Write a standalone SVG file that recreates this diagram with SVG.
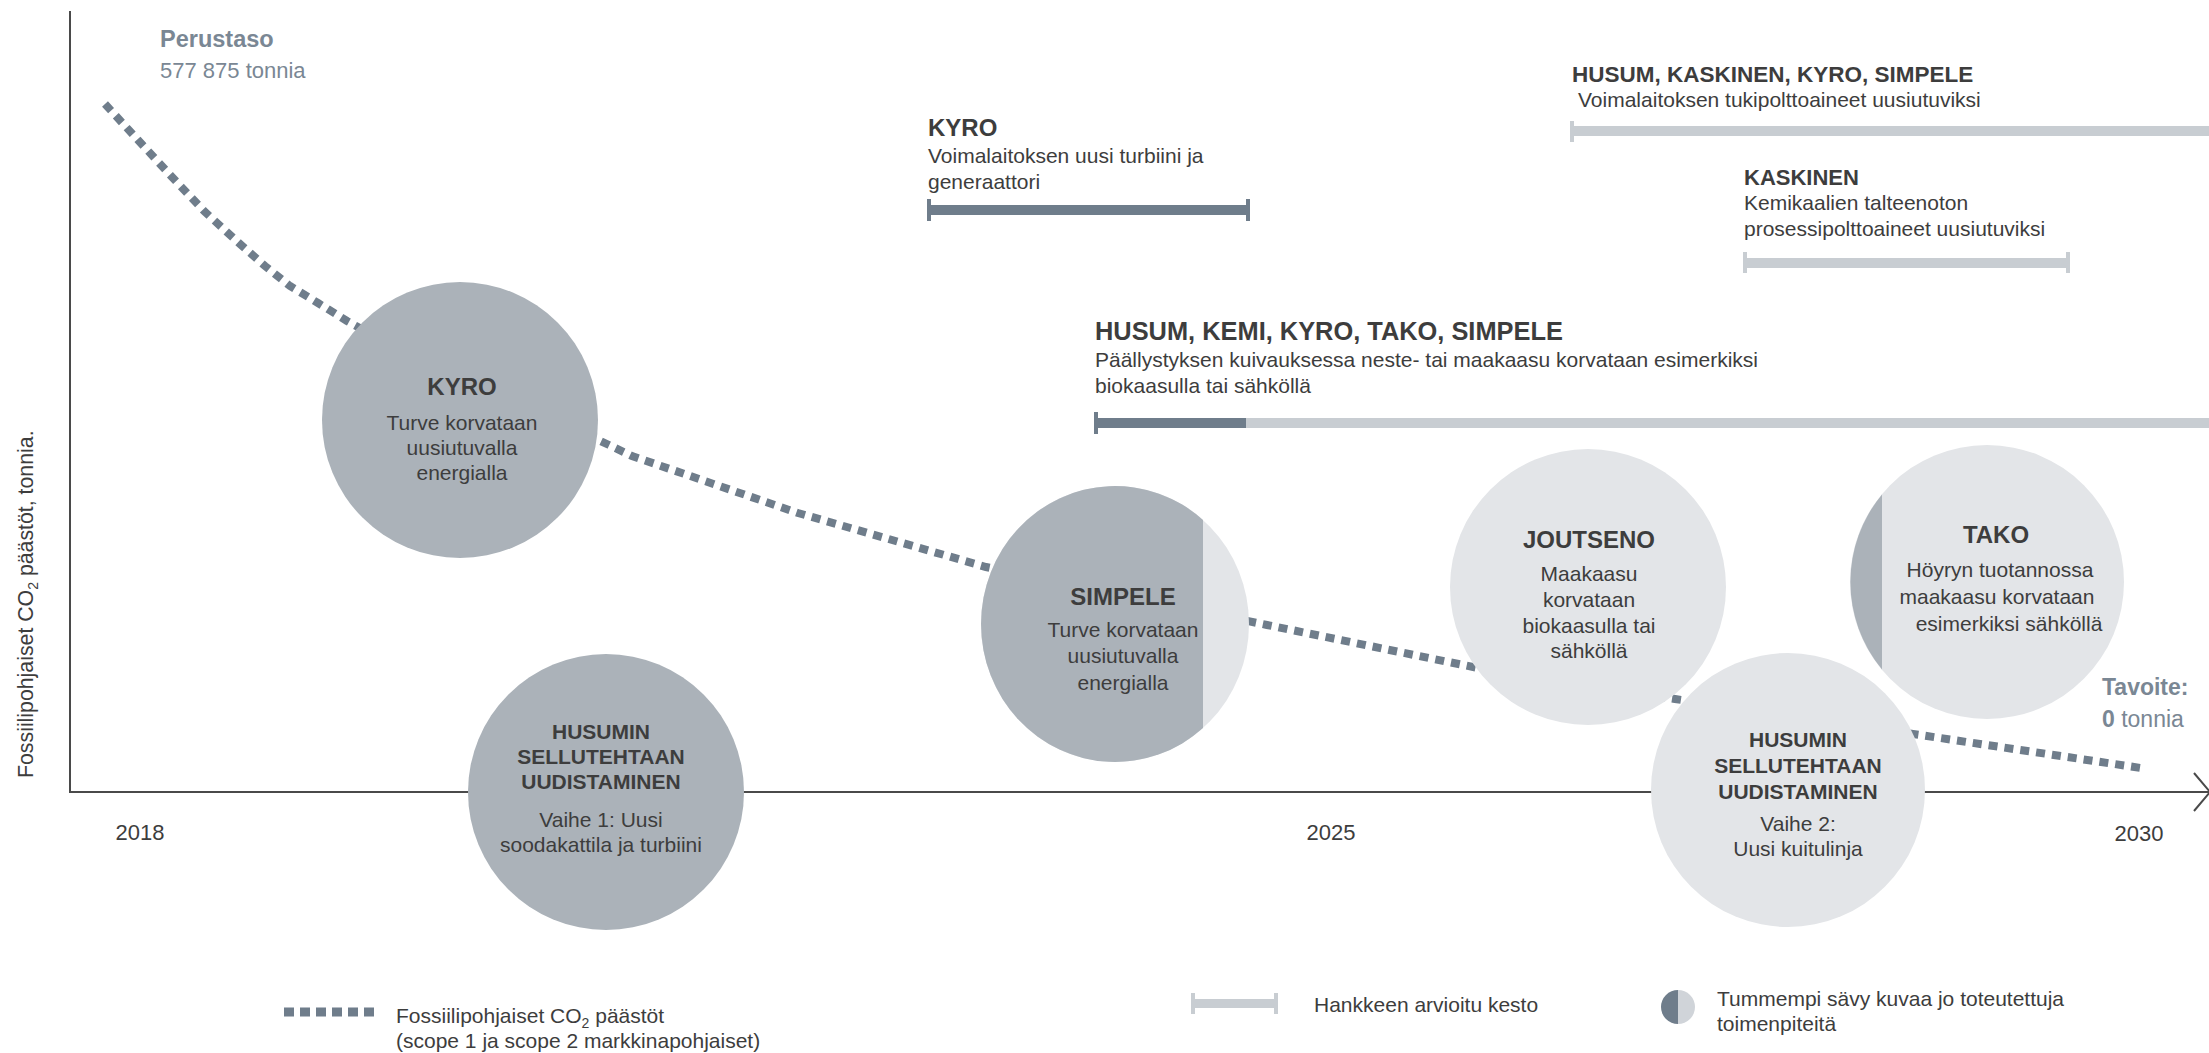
<svg xmlns="http://www.w3.org/2000/svg" width="2209" height="1053" viewBox="0 0 2209 1053">
<style>
text{font-family:"Liberation Sans",Arial,sans-serif;fill:#3d3d3d}
.t{font-size:21px}
.b{font-weight:bold}
.h{font-size:24px;font-weight:bold}
.hs{font-size:21px;font-weight:bold}
.c{text-anchor:middle}
.acc{fill:#7a8794}
.dk{fill:#abb2b9}
.lt{fill:#e3e5e8}
.bd{fill:#6f7d8b}
.bl{fill:#c8cdd2}
.dots{fill:none;stroke:#6f7d8b;stroke-width:8;stroke-dasharray:9 7}
.axis{fill:none;stroke:#4a4a4a;stroke-width:2}
</style>
<rect width="2209" height="1053" fill="#ffffff"/>

<g id="axes">
<polyline class="axis" points="70,11 70,792 2209,792"/>
<polyline class="axis" points="2194,773 2210,792 2194,811"/>
<text class="t" style="font-size:21.3px" transform="translate(33,778) rotate(-90)">Fossiilipohjaiset CO<tspan style="font-size:14px" dy="5">2</tspan><tspan dy="-5"> päästöt, tonnia.</tspan></text>
<text class="c" x="140" y="840" style="font-size:22px">2018</text>
<text class="c" x="1331" y="840" style="font-size:22px">2025</text>
<text class="c" x="2139" y="841" style="font-size:22px">2030</text>
</g>

<g id="connectors">
<path class="dots" d="M105,104 L138,140 L172,177 L205,212 L240,244 L265,266 L290,286 L318,303 L347,321 L358,327 L609,445 L632,456 L798,513 L986,567 L1267,625 L1478,668 L1675,699 L1920,735 L2141,768"/>
</g>

<g id="baseline">
<text class="acc b" x="160" y="47" style="font-size:23.5px">Perustaso</text>
<text class="acc" x="160" y="78" style="font-size:22px">577 875 tonnia</text>
</g>

<g id="target">
<text class="acc b" x="2102" y="695" style="font-size:23px">Tavoite:</text>
<text class="acc" x="2102" y="727" style="font-size:23px"><tspan font-weight="bold">0</tspan> tonnia</text>
</g>

<g id="bar-kyro">
<rect class="bd" x="928" y="205" width="320" height="10"/>
<rect class="bd" x="927" y="199" width="4" height="22"/>
<rect class="bd" x="1246" y="199" width="4" height="22"/>
<text class="b" x="928" y="136" style="font-size:24px">KYRO</text>
<text class="t" x="928" y="163">Voimalaitoksen uusi turbiini ja</text>
<text class="t" x="928" y="189">generaattori</text>
</g>

<g id="bar-husum-kaskinen">
<rect class="bl" x="1571" y="126" width="638" height="10"/>
<rect class="bl" x="1570" y="121" width="4" height="21"/>
<text class="b" x="1572" y="82" style="font-size:22.5px">HUSUM, KASKINEN, KYRO, SIMPELE</text>
<text class="t" x="1578" y="107">Voimalaitoksen tukipolttoaineet uusiutuviksi</text>
</g>

<g id="bar-kaskinen">
<rect class="bl" x="1744" y="258" width="325" height="10"/>
<rect class="bl" x="1743" y="252" width="4" height="21"/>
<rect class="bl" x="2066" y="252" width="4" height="21"/>
<text class="b" x="1744" y="185" style="font-size:22px">KASKINEN</text>
<text class="t" x="1744" y="210">Kemikaalien talteenoton</text>
<text class="t" x="1744" y="236">prosessipolttoaineet uusiutuviksi</text>
</g>

<g id="bar-husum-kemi">
<rect class="bl" x="1246" y="418" width="963" height="10"/>
<rect class="bd" x="1095" y="418" width="151" height="10"/>
<rect class="bd" x="1094" y="412" width="4" height="22"/>
<text class="b" x="1095" y="340" style="font-size:25.4px">HUSUM, KEMI, KYRO, TAKO, SIMPELE</text>
<text class="t" x="1095" y="367">Päällystyksen kuivauksessa neste- tai maakaasu korvataan esimerkiksi</text>
<text class="t" x="1095" y="393">biokaasulla tai sähköllä</text>
</g>

<g id="node-kyro">
<circle class="dk" cx="460" cy="420" r="138"/>
<text class="h c" x="462" y="395">KYRO</text>
<text class="t c" x="462" y="430">Turve korvataan</text>
<text class="t c" x="462" y="455">uusiutuvalla</text>
<text class="t c" x="462" y="480">energialla</text>
</g>

<g id="node-husumin-1">
<circle class="dk" cx="606" cy="792" r="138"/>
<text class="hs c" x="601" y="739">HUSUMIN</text>
<text class="hs c" x="601" y="764">SELLUTEHTAAN</text>
<text class="hs c" x="601" y="789">UUDISTAMINEN</text>
<text class="t c" x="601" y="827">Vaihe 1: Uusi</text>
<text class="t c" x="601" y="852">soodakattila ja turbiini</text>
</g>

<g id="node-simpele">
<ellipse class="lt" cx="1115" cy="624" rx="134" ry="138"/>
<path class="dk" d="M1203,519.9 A134,138 0 1 0 1203,728.1 Z"/>
<text class="h c" x="1123" y="605">SIMPELE</text>
<text class="t c" x="1123" y="637">Turve korvataan</text>
<text class="t c" x="1123" y="663">uusiutuvalla</text>
<text class="t c" x="1123" y="690">energialla</text>
</g>

<g id="node-joutseno">
<circle class="lt" cx="1588" cy="587" r="138"/>
<text class="h c" x="1589" y="548">JOUTSENO</text>
<text class="t c" x="1589" y="581">Maakaasu</text>
<text class="t c" x="1589" y="607">korvataan</text>
<text class="t c" x="1589" y="633">biokaasulla tai</text>
<text class="t c" x="1589" y="658">sähköllä</text>
</g>

<g id="node-tako">
<circle class="lt" cx="1987" cy="582" r="137"/>
<path class="dk" d="M1882,494.5 A137,137 0 0 0 1882,669.5 Z"/>
<text class="h c" x="1996" y="543">TAKO</text>
<text class="t c" x="2000" y="577">Höyryn tuotannossa</text>
<text class="t c" x="1997" y="604">maakaasu korvataan</text>
<text class="t c" x="2009" y="631">esimerkiksi sähköllä</text>
</g>

<g id="node-husumin-2">
<circle class="lt" cx="1788" cy="790" r="137"/>
<text class="hs c" x="1798" y="747">HUSUMIN</text>
<text class="hs c" x="1798" y="773">SELLUTEHTAAN</text>
<text class="hs c" x="1798" y="799">UUDISTAMINEN</text>
<text class="t c" x="1798" y="831">Vaihe 2:</text>
<text class="t c" x="1798" y="856">Uusi kuitulinja</text>
</g>

<g id="legend-emissions">
<line x1="284" y1="1012" x2="374" y2="1012" stroke="#6f7d8b" stroke-width="9" stroke-dasharray="10 6"/>
<text class="t" x="396" y="1023">Fossiilipohjaiset CO<tspan style="font-size:14px" dy="5">2</tspan><tspan dy="-5"> päästöt</tspan></text>
<text class="t" x="396" y="1048">(scope 1 ja scope 2 markkinapohjaiset)</text>
</g>

<g id="legend-duration">
<rect class="bl" x="1192" y="999" width="85" height="9"/>
<rect class="bl" x="1191" y="993" width="4" height="21"/>
<rect class="bl" x="1274" y="993" width="4" height="21"/>
<text class="t" x="1314" y="1012">Hankkeen arvioitu kesto</text>
</g>

<g id="legend-shade">
<path fill="#6f7d8b" d="M1678,990 A17,17 0 0 0 1678,1024 Z"/>
<path fill="#d0d4d9" d="M1678,990 A17,17 0 0 1 1678,1024 Z"/>
<text class="t" x="1717" y="1006">Tummempi sävy kuvaa jo toteutettuja</text>
<text class="t" x="1717" y="1031">toimenpiteitä</text>
</g>
</svg>
